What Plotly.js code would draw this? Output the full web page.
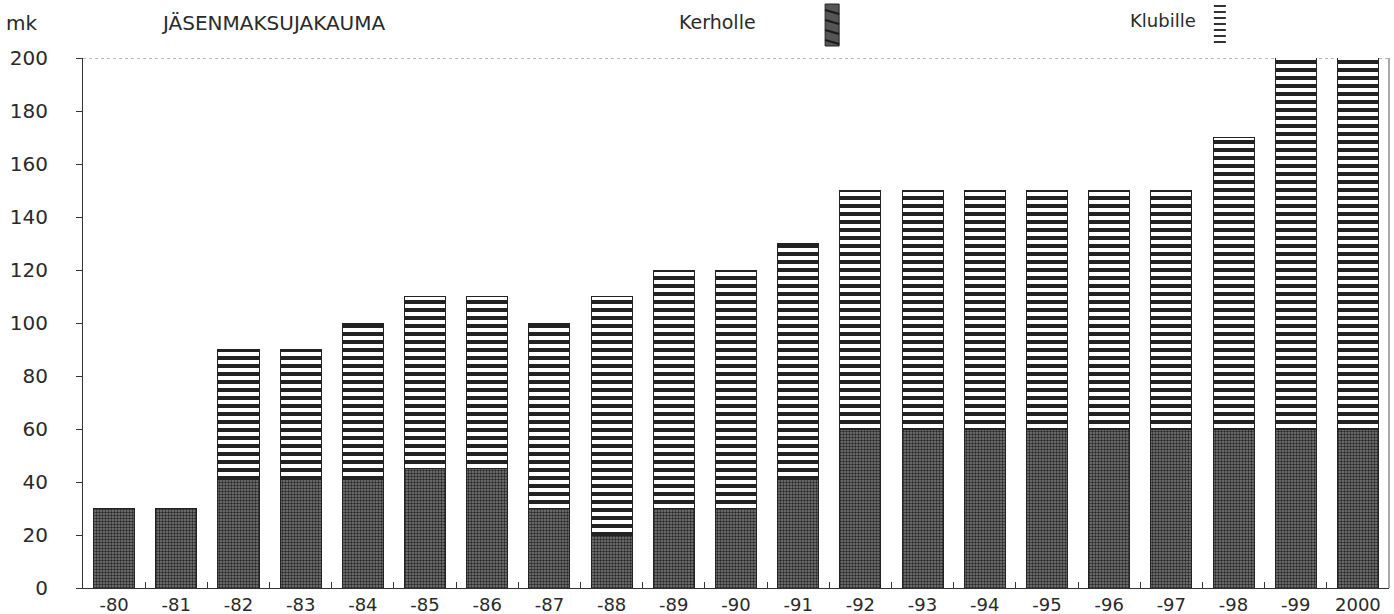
<!DOCTYPE html>
<html>
<head>
<meta charset="utf-8">
<script src="https://cdn.plot.ly/plotly-3.0.1.min.js"></script>
<style>html,body{margin:0;padding:0;background:#fff;}#chart{width:1394px;height:614px;}</style>
</head>
<body>
<div id="chart"></div>
<script>
const years = ['-80','-81','-82','-83','-84','-85','-86','-87','-88','-89','-90','-91','-92','-93','-94','-95','-96','-97','-98','-99','2000'];
const kerholle = [30,30,41,41,41,45,45,30,20,30,30,41,60,60,60,60,60,60,60,60,60];
const klubille = [0,0,49,49,59,65,65,70,90,90,90,89,90,90,90,90,90,90,110,150,150];
const yTicks = [0,20,40,60,80,100,120,140,160,180,200];

const FONT = 'DejaVu Sans, Liberation Sans, Arial, sans-serif';
const TXT = '#2a2a2a';

const traces = [
  {
    type: 'bar', name: 'Kerholle', x: years, y: kerholle,
    marker: {
      color: '#5e5e5e',
      line: {color: '#222', width: 1},
      pattern: {shape: '.', fgcolor: '#262626', bgcolor: '#7e7e7e', size: 3, solidity: 0.5}
    },
    showlegend: false, hoverinfo: 'x+y'
  },
  {
    type: 'bar', name: 'Klubille', x: years, y: klubille,
    marker: {
      color: '#ffffff',
      line: {color: '#222', width: 1},
      pattern: {shape: '-', fgcolor: '#222222', bgcolor: '#ffffff', size: 8, solidity: 0.5}
    },
    showlegend: false, hoverinfo: 'x+y'
  }
];

// frame lines and legend swatches (decorative)
const shapes = [
  {type:'line', xref:'paper', yref:'y', x0:0, x1:1, y0:200, y1:200, line:{color:'#777', width:1, dash:'dot'}, layer:'below'},
  {type:'line', xref:'paper', yref:'paper', x0:1, x1:1, y0:0, y1:1, line:{color:'#555', width:1}, layer:'below'},
  {type:'rect', xref:'paper', yref:'paper', xsizemode:'pixel', ysizemode:'pixel', xanchor:0.5736, yanchor:1.0, x0:-7, x1:7, y0:12, y1:54, fillcolor:'#555', line:{color:'#222', width:1}}
];
for (let i = 0; i < 4; i++) {
  shapes.push({type:'line', xref:'paper', yref:'paper', xsizemode:'pixel', ysizemode:'pixel', xanchor:0.5736, yanchor:1.0, x0:-7, x1:7, y0:18 + i*10, y1:14 + i*10, line:{color:'#1a1a1a', width:2}});
}
for (let i = 0; i < 7; i++) {
  shapes.push({type:'line', xref:'paper', yref:'paper', xsizemode:'pixel', ysizemode:'pixel', xanchor:0.8705, yanchor:1.0, x0:-6, x1:6, y0:16 + i*6, y1:16 + i*6, line:{color:'#333', width:2}});
}

const layout = {
  width: 1394, height: 614,
  margin: {l: 83, r: 5, t: 58, b: 26, autoexpand: false},
  paper_bgcolor: '#ffffff', plot_bgcolor: '#ffffff',
  barmode: 'stack', bargap: 0.34,
  font: {family: FONT, size: 20, color: TXT},
  showlegend: false,
  xaxis: {
    type: 'category', automargin: false,
    showline: true, linecolor: '#333', linewidth: 1,
    ticks: 'inside', tickson: 'boundaries', ticklen: 6, tickcolor: '#333',
    showgrid: false, zeroline: false,
    tickfont: {family: FONT, size: 18, color: TXT}
  },
  yaxis: {
    range: [0, 200], automargin: false,
    tickvals: yTicks, ticktext: yTicks.map(String),
    showline: true, linecolor: '#333', linewidth: 1,
    ticks: 'outside', ticklen: 6, tickcolor: '#333',
    showgrid: false, zeroline: false,
    ticklabelstandoff: 24,
    tickfont: {family: FONT, size: 20, color: TXT}
  },
  shapes: shapes,
  annotations: [
    {text: 'mk', xref: 'paper', yref: 'paper', x: -0.047, y: 1, yshift: 35, xanchor: 'center', yanchor: 'middle', showarrow: false, font: {family: FONT, size: 20, color: TXT}},
    {text: 'JÄSENMAKSUJAKAUMA', xref: 'paper', yref: 'paper', x: 0.0585, y: 1, yshift: 35, xanchor: 'left', yanchor: 'middle', showarrow: false, font: {family: FONT, size: 20, color: TXT}},
    {text: 'Kerholle', xref: 'paper', yref: 'paper', x: 0.455, y: 1, yshift: 36, xanchor: 'left', yanchor: 'middle', showarrow: false, font: {family: FONT, size: 19, color: TXT}},
    {text: 'Klubille', xref: 'paper', yref: 'paper', x: 0.8, y: 1, yshift: 38, xanchor: 'left', yanchor: 'middle', showarrow: false, font: {family: FONT, size: 18, color: TXT}}
  ]
};

Plotly.newPlot('chart', traces, layout, {displayModeBar: false, staticPlot: true});
</script>
</body>
</html>
